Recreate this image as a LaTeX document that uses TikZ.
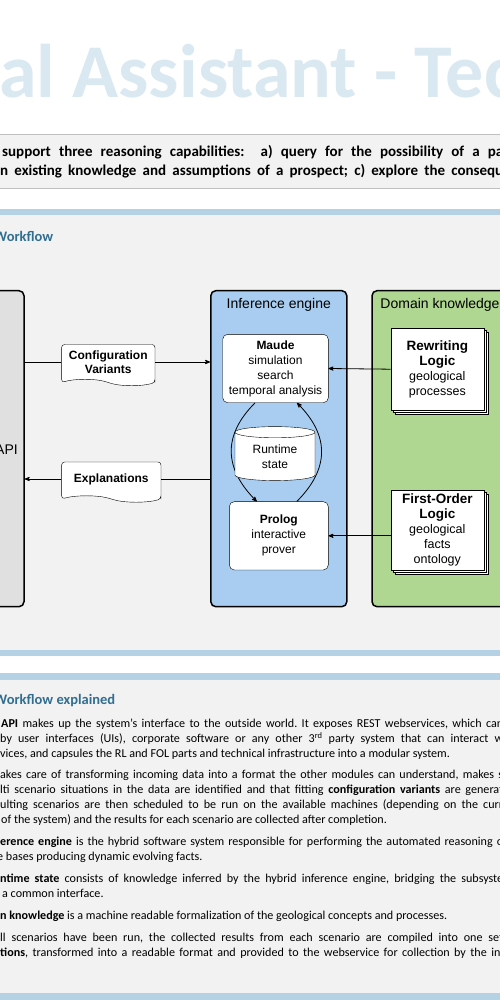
\documentclass[tikz,border=0pt]{standalone}
\usepackage{fontspec}
\setmainfont{Carlito}
\setsansfont{Liberation Sans}
\usetikzlibrary{positioning, arrows, shapes.geometric, shapes.symbols, shadows}

\definecolor{titleblue}{RGB}{218,232,241}
\definecolor{bandblue}{RGB}{180,210,227}
\definecolor{panelgray}{RGB}{242,242,242}
\definecolor{rulegray}{RGB}{191,191,191}
\definecolor{headblue}{RGB}{49,110,143}
\definecolor{apigray}{RGB}{224,224,224}
\definecolor{engineblue}{RGB}{168,205,240}
\definecolor{domaingreen}{RGB}{176,215,145}

\frenchspacing
\newlength{\parw}
\setlength{\parw}{503pt}
\newcommand{\fullline}[1]{\makebox[\parw][s]{#1}}
\newcommand{\kbname}[1]{{\bfseries\fontsize{13.5}{17}\selectfont #1}}

\tikzset{
	x=1pt, y=-1pt,
	>=stealth',
	module/.style={draw, line width=1.5pt, rounded corners=5pt, minimum width=136pt, minimum height=316pt},
	modtitle/.style={font=\sffamily\fontsize{14}{16}\selectfont, inner sep=0pt},
	tool/.style={draw, fill=white, rounded corners=5pt, align=center, inner sep=0pt,
		font=\sffamily\fontsize{12}{15}\selectfont},
	docpage/.style={tape, tape bend top=none, tape bend bottom=out and in, tape bend height=6pt,
		draw, fill=white, rounded corners=3pt, align=center, inner sep=0pt,
		font=\sffamily\bfseries\fontsize{12}{14}\selectfont},
	kbase/.style={draw, fill=white, align=center, inner sep=0pt, minimum width=93pt,
		double copy shadow={shadow xshift=2pt, shadow yshift=-2pt},
		font=\sffamily\fontsize{12.5}{15}\selectfont},
	flow/.style={->, line width=0.8pt},
	heading/.style={anchor=base west, inner sep=0pt, text=headblue, font=\bfseries\fontsize{14.5}{17}\selectfont},
	body/.style={anchor=base west, inner sep=0pt, align=left, font=\fontsize{12.1}{14.8}\selectfont}
}

\begin{document}
\begin{tikzpicture}
	\useasboundingbox (0,0) rectangle (500,1000);
	\clip (0,0) rectangle (500,1000);

	\node[anchor=base west, inner sep=0pt, text=titleblue, font=\bfseries\fontsize{76}{80}\selectfont] (title) at (-1,98) {al Assistant - Tec};

	\fill[panelgray] (0,134) rectangle (500,188);
	\draw[rulegray, thick] (0,134) -- (500,134) (0,188) -- (500,188);
	\node[anchor=base west, inner sep=0pt, align=left, font=\bfseries\fontsize{15}{18.5}\selectfont] (intro) at (0,175.5)
		{\fullline{\hspace*{2pt}support three reasoning capabilities:\ \ a) query for the possibility of a pa}\\
		\fullline{n existing knowledge and assumptions of a prospect; c) explore the consequ}};

	\fill[bandblue] (0,209) rectangle (500,215);
	\fill[panelgray] (0,215) rectangle (500,650);
	\fill[bandblue] (0,650) rectangle (500,656);
	\fill[bandblue] (0,673) rectangle (500,680);
	\fill[panelgray] (0,680) rectangle (500,993);
	\fill[bandblue] (0,993) rectangle (500,1000);

	\node[heading] (wfhead) at (-6,241.7) {Workflow};

	\node[module, fill=apigray] (api) at (-44,448.7) {};
	\node[modtitle, anchor=base east] (apilabel) at (18,454.3) {API};
	\node[module, fill=engineblue] (engine) at (278.8,448.7) {};
	\node[modtitle, below=8pt of engine.north] (enginelabel) {Inference engine};
	\node[module, fill=domaingreen] (domain) at (440,448.7) {};
	\node[modtitle, below=8pt of domain.north] (domainlabel) {Domain knowledge};

	\node[tool, minimum width=105.6pt, minimum height=68.4pt] (maude) at (275.5,368.5)
		{\textbf{Maude}\\simulation\\search\\temporal analysis};
	\node[tool, minimum width=99pt, minimum height=68.3pt] (prolog) at (278.8,535.8)
		{\textbf{Prolog}\\interactive\\prover};

	\draw[flow] ([xshift=-20.5pt]maude.south) to[out=225, in=135, looseness=1.2] ([xshift=-22pt]prolog.north);
	\draw[flow] ([xshift=18pt]prolog.north) to[out=45, in=-45, looseness=1.2] ([xshift=21.5pt]maude.south);

	\node[cylinder, shape border rotate=90, draw, fill=white, aspect=0.25, minimum width=80pt, minimum height=54pt,
		align=center, inner sep=0pt, font=\sffamily\fontsize{12}{15}\selectfont] (runtime) at (275,456.5) {Runtime\\state};

	\node[docpage, minimum width=93.3pt, minimum height=41pt] (config) at (108.3,362) {Configuration\\Variants};
	\node[docpage, minimum width=99.3pt, minimum height=40pt] (expl) at (111.3,479) {Explanations};
	\node[kbase, minimum height=81.7pt] (rwl) at (437.3,369.2)
		{\kbname{Rewriting}\\\kbname{Logic}\\geological\\processes};
	\node[kbase, minimum height=80.7pt] (fol) at (437.3,530.3)
		{\kbname{First-Order}\\\kbname{Logic}\\geological\\facts\\ontology};

	\draw[line width=0.8pt] (api.east |- config.west) -- (config.west);
	\draw[flow] (config.east) -- (config.east -| engine.west);
	\draw[line width=0.8pt] (engine.west |- expl.east) -- (expl.east);
	\draw[flow] (expl.west) -- (expl.west -| api.east);
	\draw[flow] (rwl.west) -- (maude.east);
	\draw[flow] (fol.west |- prolog.east) -- (prolog.east);

	\node[heading] (wfexpl) at (-6,704.3) {Workflow explained};

	\node[body] (para1) at (0,757.3)
		{\fullline{\hspace*{1pt}\textbf{API} makes up the system’s interface to the outside world. It exposes REST webservices, which can}\\
		\fullline{by user interfaces (UIs), corporate software or any other 3\textsuperscript{rd} party system that can interact w}\\
		vices, and capsules the RL and FOL parts and technical infrastructure into a modular system.};
	\node[body] (para2) at (0,823.3)
		{\fullline{akes care of transforming incoming data into a format the other modules can understand, makes s}\\
		\fullline{lti scenario situations in the data are identified and that fitting \textbf{configuration variants} are generat}\\
		\fullline{ulting scenarios are then scheduled to be run on the available machines (depending on the curr}\\
		\hspace*{1pt}of the system) and the results for each scenario are collected after completion.};
	\node[body] (para3) at (0,860.7)
		{\fullline{\textbf{erence engine} is the hybrid software system responsible for performing the automated reasoning o}\\
		\hspace*{-3pt}e bases producing dynamic evolving facts.};
	\node[body] (para4) at (0,897.3)
		{\fullline{\textbf{ntime state} consists of knowledge inferred by the hybrid inference engine, bridging the subsyste}\\
		\hspace*{2pt}a common interface.};
	\node[body] (para5) at (0,919.3)
		{\textbf{n knowledge} is a machine readable formalization of the geological concepts and processes.};
	\node[body] (para6) at (0,956.7)
		{\fullline{ll scenarios have been run, the collected results from each scenario are compiled into one set}\\
		\fullline{\textbf{tions}, transformed into a readable format and provided to the webservice for collection by the ini}};
\end{tikzpicture}
\end{document}
